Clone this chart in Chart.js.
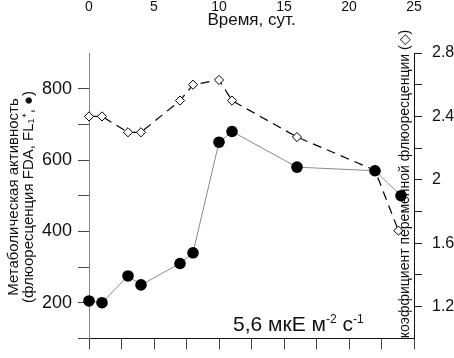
<!DOCTYPE html>
<html>
<head>
<meta charset="utf-8">
<script src="https://cdn.jsdelivr.net/npm/chart.js@4.4.0/dist/chart.umd.min.js"></script>
<style>
  html, body { margin: 0; padding: 0; background: #fff; }
</style>
</head>
<body>
<canvas id="chart" width="454" height="358"></canvas>
<script>
// data
const days = [0, 1, 3, 4, 7, 8, 10, 11, 16, 22, 24];
const activity = [205, 200, 275, 250, 310, 340, 650, 680, 580, 570, 500];
const fvDays = [0, 1, 3, 4, 7, 8, 10, 11, 16, 22, 23.8];
const fvCoef = [2.40, 2.40, 2.30, 2.30, 2.50, 2.60, 2.63, 2.50, 2.27, 2.06, 1.68];
const dayLabels = [0, 5, 10, 15, 20, 25];

const xTitle = 'Время, сут.';
const leftTitle = ['Метаболическая активность', '(флюоресценция FDA, FL\u2081\u207A, \u25CF)'];
const rightTitle = 'коэффициент переменной флюоресценции (\u25C7)';
const note = [['5,6 мкЕ м', false], ['-2', true], [' с', false], ['-1', true]];

const FONT = '"Liberation Sans", Arial, sans-serif';
const INK = '#111';
const hide = 'rgba(0,0,0,0)';

const textPlugin = {
  id: 'textPlugin',
  beforeDatasetsDraw(chart) {
    const ctx = chart.ctx;
    const area = chart.chartArea;
    const xs = chart.scales.x;
    ctx.save();
    ctx.fillStyle = INK;
    ctx.textAlign = 'center';
    ctx.textBaseline = 'middle';

    // day labels sit above the plot, the tick marks are at the bottom
    ctx.font = '14px ' + FONT;
    dayLabels.forEach(d => ctx.fillText(String(d), xs.getPixelForValue(d), 7));

    ctx.font = '17px ' + FONT;
    ctx.fillText(xTitle, (area.left + area.right) / 2, 20);

    // left axis title, two lines
    ctx.font = '15px ' + FONT;
    ctx.save();
    ctx.translate(14, 197);
    ctx.rotate(-Math.PI / 2);
    ctx.fillText(leftTitle[0], 0, 0);
    ctx.fillText(leftTitle[1], 0, 14.5);
    ctx.restore();

    // right axis title sits inside the plot
    ctx.font = '14px ' + FONT;
    ctx.save();
    ctx.translate(area.right - 9, 184);
    ctx.rotate(-Math.PI / 2);
    ctx.fillText(rightTitle, 0, 0);
    ctx.restore();

    // light intensity note
    ctx.textAlign = 'left';
    ctx.textBaseline = 'alphabetic';
    let x = 233;
    note.forEach(([t, sup]) => {
      ctx.font = (sup ? '12px ' : '21px ') + FONT;
      ctx.fillText(t, x, sup ? 323 : 331);
      x += ctx.measureText(t).width;
    });
    ctx.restore();
  }
};

new Chart(document.getElementById('chart'), {
  type: 'line',
  data: {
    datasets: [
      {
        data: days.map((d, i) => ({ x: d, y: activity[i] })),
        xAxisID: 'x',
        yAxisID: 'y',
        clip: false,
        borderColor: '#8a8a8a',
        borderWidth: 1,
        pointRadius: 5.8,
        pointBackgroundColor: '#000',
        pointBorderColor: '#000',
        pointBorderWidth: 0
      },
      {
        data: fvDays.map((d, i) => ({ x: d, y: fvCoef[i] })),
        xAxisID: 'x',
        yAxisID: 'y2',
        clip: false,
        borderColor: '#000',
        borderWidth: 1.2,
        borderDash: [9, 6],
        pointStyle: 'rectRot',
        pointRadius: 4.6,
        pointBackgroundColor: '#fff',
        pointBorderColor: '#000',
        pointBorderWidth: 1
      }
    ]
  },
  options: {
    responsive: false,
    animation: false,
    layout: { padding: { top: 53, left: 0, right: 0, bottom: 0 } },
    plugins: { legend: { display: false }, tooltip: { enabled: false } },
    scales: {
      x: {
        type: 'linear',
        position: 'bottom',
        min: 0,
        max: 25,
        ticks: { display: false, stepSize: 2.5 },
        grid: { drawOnChartArea: false, tickLength: 11, color: '#444' },
        border: { color: INK },
        afterFit: s => { s.height = 12; }
      },
      y: {
        position: 'left',
        min: 100,
        max: 900,
        ticks: {
          stepSize: 100,
          padding: 6,
          color: INK,
          font: { family: FONT, size: 18 },
          callback: v => (v % 200 === 0 ? String(v) : '')
        },
        grid: {
          drawOnChartArea: false,
          tickLength: 11,
          tickColor: c => (c.tick && c.tick.value === 900 ? hide : '#444')
        },
        border: { color: '#888' },
        afterFit: s => { s.width = 89; }
      },
      y2: {
        position: 'right',
        min: 1,
        max: 2.8,
        ticks: {
          stepSize: 0.2,
          padding: 10,
          color: INK,
          font: { family: FONT, size: 16 },
          callback: v => {
            const t = Math.round(v * 10);
            return t % 4 === 0 && t > 10 ? String(t / 10) : '';
          }
        },
        grid: {
          drawOnChartArea: false,
          tickLength: 8,
          tickColor: c => (c.tick && Math.round(c.tick.value * 10) === 10 ? hide : '#222')
        },
        border: { color: INK },
        afterFit: s => { s.width = 40; }
      }
    }
  },
  plugins: [textPlugin]
});
</script>
</body>
</html>
